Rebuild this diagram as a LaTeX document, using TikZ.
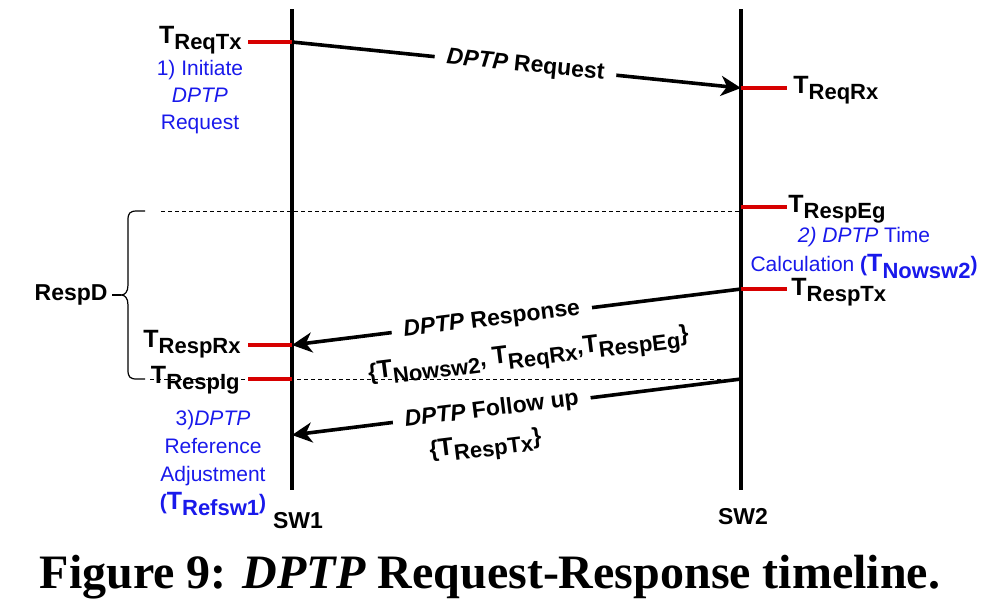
\documentclass[tikz,border=0pt]{standalone}
\usepackage{fontspec}
\setmainfont{Liberation Sans}
\newfontfamily\capfont{Liberation Serif}
\usepackage{xcolor}
\usepackage{tikz}
\usetikzlibrary{positioning,calc,arrows.meta}
\definecolor{notecolor}{RGB}{25,25,235}
\definecolor{tickcolor}{RGB}{215,0,0}
\newcommand{\tsub}[1]{{\fontsize{12.5}{12}\selectfont T}\raisebox{-3.2pt}{\fontsize{11}{12}\selectfont #1}}

\begin{document}
\begin{tikzpicture}[x=0.5pt,y=-0.5pt,
        lane/.style={line width=1.8pt},
        tick/.style={tickcolor, line width=1.7pt},
        msgline/.style={line width=1.8pt, -{Stealth[length=10pt,width=10pt,inset=3pt]}},
        guide/.style={dash pattern=on 2pt off 1.5pt, line width=0.5pt},
        tlbl/.style={font=\bfseries, inner sep=0pt},
        note/.style={notecolor, align=center, inner sep=0pt},
        msg/.style={font=\bfseries\fontsize{11.5}{14}\selectfont, inner sep=0pt},
        msglbl/.style={msg, sloped, fill=white, inner xsep=6pt, inner ysep=2pt}]
        \useasboundingbox (0,0) rectangle (1000,602);

        % switch timelines
        \coordinate (sw1top) at (292,9);
        \coordinate (sw1bot) at (292,490);
        \coordinate (sw2top) at (741,9);
        \coordinate (sw2bot) at (741,490);
        \draw[lane] (sw1top) -- (sw1bot);
        \draw[lane] (sw2top) -- (sw2bot);
        \node[msg] (sw1) at (298,521) {SW1};
        \node[msg] (sw2) at (743,517) {SW2};

        % timestamps
        \coordinate (reqTx) at (292,42);
        \coordinate (reqRx) at (741,88);
        \coordinate (respEg) at (741,207);
        \coordinate (respTx) at (741,289);
        \coordinate (respRx) at (292,345);
        \coordinate (respIg) at (292,379);
        \coordinate (fupTx) at (741,379);
        \coordinate (fupRx) at (292,435);

        % dashed guides
        \coordinate (guideA) at (161,211);
        \coordinate (guideAend) at (741,211);
        \coordinate (guideB) at (150,379);
        \draw[guide] (guideA) -- (guideAend);
        \draw[guide] (guideB) -- (fupTx);

        \draw[tick] (reqTx) -- ++(-44,0);
        \draw[tick] (respRx) -- ++(-44,0);
        \draw[tick] (respIg) -- ++(-44,0);
        \draw[tick] (reqRx) -- ++(46,0);
        \draw[tick] (respEg) -- ++(46,0);
        \draw[tick] (respTx) -- ++(46,0);

        \node[tlbl, anchor=base east] (lReqTx) at (242,43) {\tsub{ReqTx}};
        \node[tlbl, anchor=base east] (lRespRx) at (241,347) {\tsub{RespRx}};
        \node[tlbl, anchor=base east] (lRespIg) at (240,383) {\tsub{RespIg}};
        \node[tlbl, anchor=base west] (lReqRx) at (793,93) {\tsub{ReqRx}};
        \node[tlbl, anchor=base west] (lRespEg) at (788,212) {\tsub{RespEg}};
        \node[tlbl, anchor=base west] (lRespTx) at (791,295) {\tsub{RespTx}};

        % messages
        \draw[msgline] (reqTx) -- node[msglbl, pos=0.52] (reqLbl) {\textit{DPTP} Request} (reqRx);
        \draw[msgline] (respTx) -- node[msglbl, pos=0.555] (respLbl) {\textit{DPTP} Response} (respRx);
        \node[msg, rotate=7.1] (respData) at ($(respLbl)+(37,37)$) {\{\tsub{Nowsw2}, \tsub{ReqRx},\tsub{RespEg}\}};
        \draw[msgline] (fupTx) -- node[msglbl, pos=0.555] (fupLbl) {\textit{DPTP} Follow up} (fupRx);
        \node[msg, rotate=7.1] (fupData) at ($(fupLbl)+(-6,37)$) {\{\tsub{RespTx}\}};

        % steps
        \node[note, font=\fontsize{10.5}{13.5}\selectfont] (initNote) at (200,97) {1) Initiate\\\textit{DPTP}\\Request};
        \node[note, font=\fontsize{10.5}{14.5}\selectfont] (calcNote) at (864,253) {\textit{2) DPTP} Time\\Calculation \textbf{(\tsub{Nowsw2})}};
        \node[note, font=\fontsize{10.5}{14}\selectfont] (refNote) at (213,463) {3)\textit{DPTP}\\Reference\\Adjustment\\\textbf{(\tsub{Refsw1})}};

        % response delay brace
        \coordinate (bracetip) at (121,295);
        \draw[line width=0.6pt] (145,211) -- (137,211) .. controls (130,211) and (128,213) .. (128,220) -- (128,285)
            .. controls (128,292) and (125,295) .. (bracetip) .. controls (125,295) and (128,298) .. (128,305)
            -- (128,370) .. controls (128,377) and (130,379) .. (137,379) -- (145,379);
        \node[msg, anchor=east, inner sep=2pt] (respD) at (112,295) {RespD};
        \draw[line width=0.6pt] (respD) -- (bracetip);

        \node[font=\capfont\bfseries\fontsize{24}{28}\selectfont, anchor=base] (caption) at (490,588) {Figure 9: \textit{DPTP} Request-Response timeline.};
    \end{tikzpicture}
\end{document}
